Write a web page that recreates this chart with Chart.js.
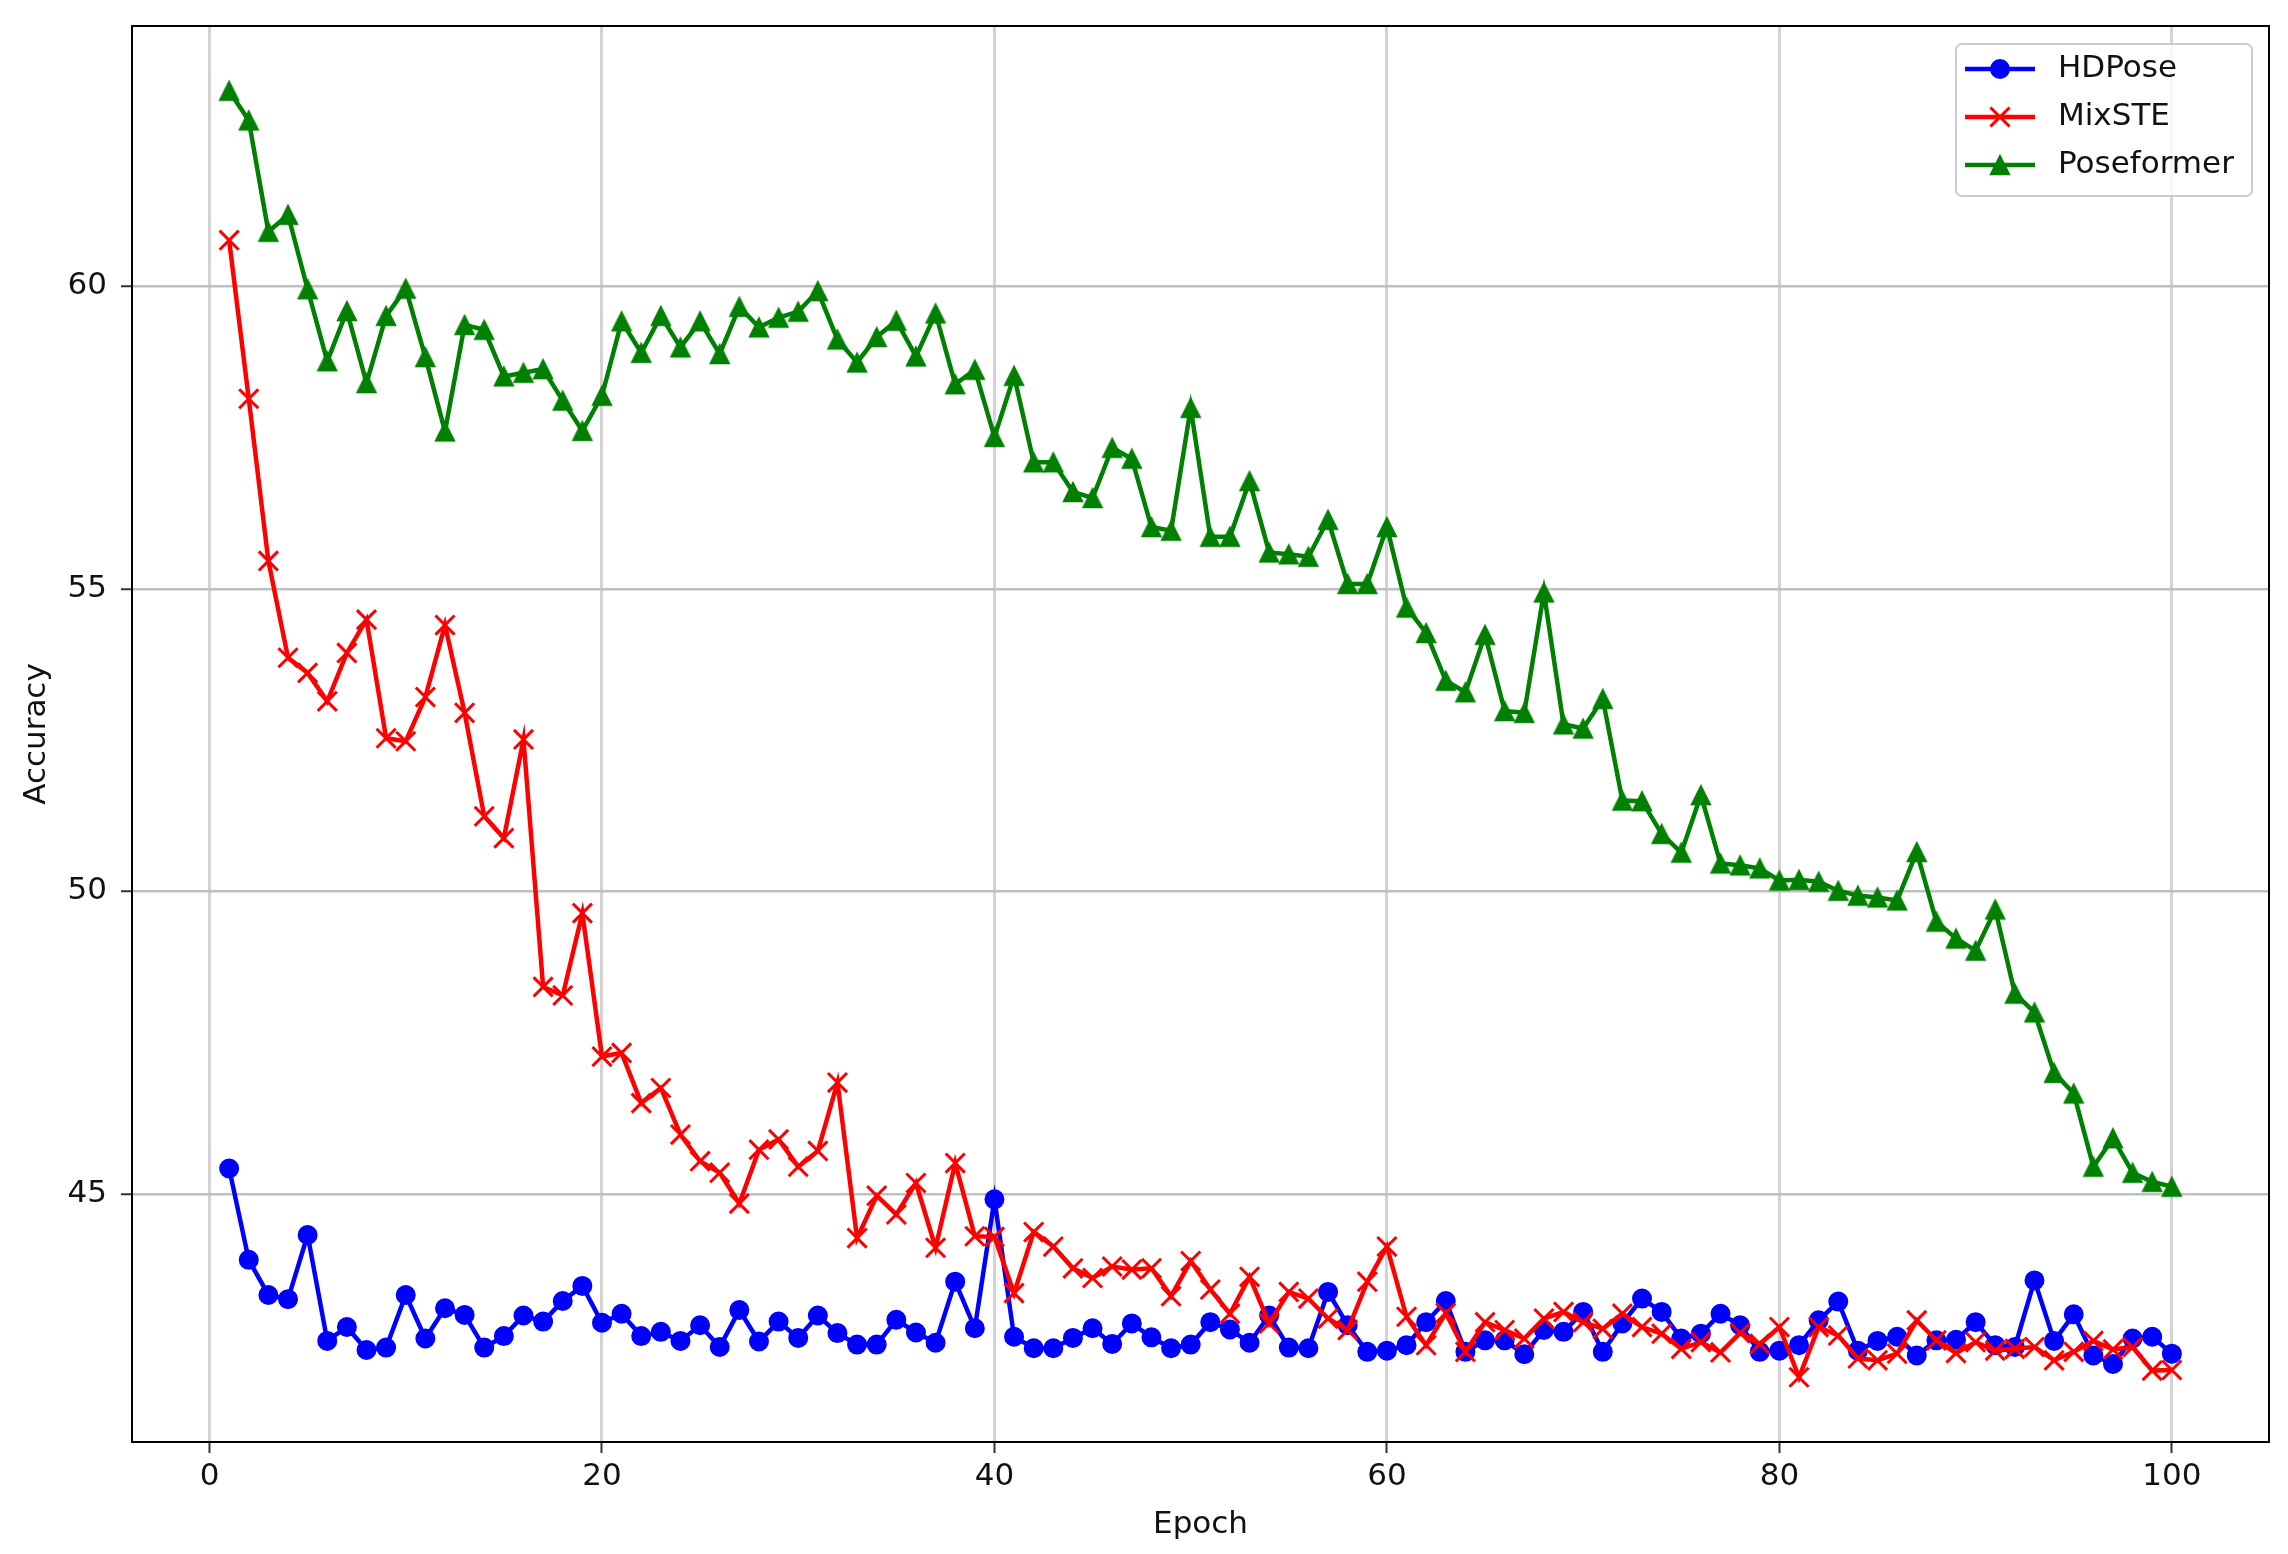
<!DOCTYPE html>
<html>
<head>
<meta charset="utf-8">
<script src="https://cdn.jsdelivr.net/npm/chart.js@4.4.0/dist/chart.umd.min.js"></script>
<style>
  html, body { margin: 0; padding: 0; background: #fff; }
  #wrap { width: 2288px; height: 1554px; }
</style>
</head>
<body>
<div id="wrap"><canvas id="chart" width="2288" height="1554"></canvas></div>
<script>
// values
const epochs = [1, 2, 3, 4, 5, 6, 7, 8, 9, 10, 11, 12, 13, 14, 15, 16, 17, 18, 19, 20,
  21, 22, 23, 24, 25, 26, 27, 28, 29, 30, 31, 32, 33, 34, 35, 36, 37, 38, 39, 40,
  41, 42, 43, 44, 45, 46, 47, 48, 49, 50, 51, 52, 53, 54, 55, 56, 57, 58, 59, 60,
  61, 62, 63, 64, 65, 66, 67, 68, 69, 70, 71, 72, 73, 74, 75, 76, 77, 78, 79, 80,
  81, 82, 83, 84, 85, 86, 87, 88, 89, 90, 91, 92, 93, 94, 95, 96, 97, 98, 99, 100]

const hdpose = [45.42, 43.91, 43.33, 43.26, 44.32, 42.57, 42.80, 42.42, 42.46, 43.33,
  42.61, 43.11, 43.00, 42.46, 42.65, 42.99, 42.89, 43.23, 43.48, 42.87,
  43.02, 42.65, 42.72, 42.57, 42.83, 42.47, 43.08, 42.56, 42.89, 42.62,
  42.99, 42.70, 42.51, 42.51, 42.92, 42.71, 42.54, 43.55, 42.78, 44.91,
  42.64, 42.45, 42.45, 42.62, 42.78, 42.52, 42.86, 42.63, 42.45, 42.51,
  42.88, 42.76, 42.54, 42.99, 42.46, 42.45, 43.38, 42.83, 42.39, 42.41,
  42.50, 42.88, 43.23, 42.39, 42.58, 42.58, 42.35, 42.75, 42.72, 43.05,
  42.39, 42.86, 43.27, 43.05, 42.61, 42.69, 43.02, 42.83, 42.39, 42.41,
  42.50, 42.91, 43.22, 42.41, 42.57, 42.64, 42.33, 42.58, 42.59, 42.88,
  42.50, 42.47, 43.57, 42.57, 43.01, 42.33, 42.19, 42.61, 42.64, 42.36]

const mixste = [60.76, 58.14, 55.46, 53.86, 53.61, 53.14, 53.94, 54.49, 52.53, 52.48,
  53.21, 54.40, 52.95, 51.24, 50.88, 52.51, 48.42, 48.28, 49.64, 47.27,
  47.33, 46.50, 46.75, 45.98, 45.54, 45.35, 44.84, 45.73, 45.90, 45.45,
  45.71, 46.84, 44.27, 44.97, 44.66, 45.18, 44.11, 45.51, 44.30, 44.29,
  43.36, 44.37, 44.13, 43.77, 43.61, 43.80, 43.75, 43.77, 43.31, 43.89,
  43.42, 43.02, 43.63, 42.86, 43.38, 43.27, 42.94, 42.75, 43.55, 44.13,
  42.97, 42.50, 43.03, 42.39, 42.88, 42.75, 42.61, 42.94, 43.05, 42.88,
  42.77, 43.02, 42.80, 42.69, 42.44, 42.55, 42.38, 42.70, 42.52, 42.80,
  41.97, 42.80, 42.66, 42.28, 42.25, 42.36, 42.91, 42.58, 42.37, 42.55,
  42.41, 42.44, 42.47, 42.25, 42.39, 42.57, 42.43, 42.47, 42.08, 42.09]

const poseformer = [63.23, 62.74, 60.90, 61.18, 59.95, 58.76, 59.59, 58.40, 59.51, 59.96,
  58.83, 57.60, 59.36, 59.28, 58.51, 58.57, 58.63, 58.11, 57.61, 58.19,
  59.42, 58.90, 59.51, 58.99, 59.42, 58.88, 59.66, 59.32, 59.48, 59.58,
  59.92, 59.12, 58.74, 59.16, 59.43, 58.84, 59.55, 58.38, 58.62, 57.51,
  58.52, 57.09, 57.09, 56.60, 56.50, 57.33, 57.15, 56.02, 55.96, 57.99,
  55.86, 55.86, 56.78, 55.60, 55.57, 55.53, 56.14, 55.08, 55.08, 56.02,
  54.69, 54.27, 53.48, 53.29, 54.24, 52.98, 52.95, 54.94, 52.76, 52.69,
  53.18, 51.50, 51.49, 50.95, 50.64, 51.59, 50.46, 50.43, 50.38, 50.18,
  50.19, 50.16, 50.01, 49.93, 49.90, 49.85, 50.65, 49.50, 49.22, 49.02,
  49.70, 48.31, 48.00, 47.00, 46.66, 45.45, 45.92, 45.35, 45.20, 45.12]

const seriesNames = ['HDPose', 'MixSTE', 'Poseformer']
const xTicks = [0, 20, 40, 60, 80, 100]
const yTicks = [45, 50, 55, 60]

const FONT = { family: '"DejaVu Sans", sans-serif', size: 31 }
const TEXT = '#111'

// matplotlib style '^' marker: bbox centred on the point
function triangleMarker(color) {
  const c = document.createElement('canvas')
  c.width = 24
  c.height = 24
  const g = c.getContext('2d')
  g.fillStyle = color
  g.strokeStyle = color
  g.lineWidth = 1.5
  g.beginPath()
  g.moveTo(12, 2.5)
  g.lineTo(21.5, 21.5)
  g.lineTo(2.5, 21.5)
  g.closePath()
  g.fill()
  g.stroke()
  return c
}

// full box around the plot (matplotlib spines)
const frame = {
  id: 'frame',
  afterDatasetsDraw(chart) {
    const a = chart.chartArea
    const ctx = chart.ctx
    ctx.save()
    ctx.strokeStyle = '#000'
    ctx.lineWidth = 2
    ctx.strokeRect(a.left, a.top, a.right - a.left, a.bottom - a.top)
    ctx.restore()
  }
}

// legend drawn like matplotlib: line + marker + label, upper right
const mplLegend = {
  id: 'mplLegend',
  afterDraw(chart) {
    const a = chart.chartArea
    const ctx = chart.ctx
    const w = 296, h = 152
    const left = a.right - 17 - w
    const top = a.top + 18
    ctx.save()
    ctx.beginPath()
    ctx.roundRect(left, top, w, h, 6)
    ctx.fillStyle = 'rgba(255,255,255,0.8)'
    ctx.fill()
    ctx.strokeStyle = '#cccccc'
    ctx.lineWidth = 2
    ctx.stroke()

    chart.data.datasets.forEach((ds, i) => {
      const y = top + 25 + i * 48
      ctx.strokeStyle = ds.borderColor
      ctx.lineWidth = ds.borderWidth
      ctx.beginPath()
      ctx.moveTo(left + 9, y)
      ctx.lineTo(left + 79, y)
      ctx.stroke()
      ctx.fillStyle = ds.pointBackgroundColor
      ctx.strokeStyle = ds.pointBorderColor
      ctx.lineWidth = ds.pointBorderWidth
      Chart.helpers.drawPoint(ctx, {
        pointStyle: ds.pointStyle,
        radius: ds.pointRadius,
        borderWidth: ds.pointBorderWidth,
        rotation: 0
      }, left + 44, y)
      ctx.fillStyle = TEXT
      ctx.font = FONT.size + 'px ' + FONT.family
      ctx.textAlign = 'left'
      ctx.textBaseline = 'middle'
      ctx.fillText(ds.label, left + 102, y)
    })
    ctx.restore()
  }
}

const chart = new Chart(document.getElementById('chart'), {
  type: 'line',
  data: {
    labels: epochs,
    datasets: [
      {
        label: seriesNames[0],
        data: hdpose,
        borderColor: '#0000ff',
        backgroundColor: '#0000ff',
        pointBackgroundColor: '#0000ff',
        pointBorderColor: '#0000ff',
        borderWidth: 4.5,
        pointStyle: 'circle',
        pointRadius: 9,
        pointBorderWidth: 2,
        order: 3
      },
      {
        label: seriesNames[1],
        data: mixste,
        borderColor: '#ff0000',
        backgroundColor: '#ff0000',
        pointBackgroundColor: '#ff0000',
        pointBorderColor: '#ff0000',
        borderWidth: 4.5,
        pointStyle: 'crossRot',
        pointRadius: 13.5,
        pointBorderWidth: 3,
        order: 2
      },
      {
        label: seriesNames[2],
        data: poseformer,
        borderColor: '#008000',
        backgroundColor: '#008000',
        pointBackgroundColor: '#008000',
        pointBorderColor: '#008000',
        borderWidth: 4.5,
        pointStyle: triangleMarker('#008000'),
        pointRadius: 10,
        pointBorderWidth: 1,
        order: 1
      }
    ]
  },
  options: {
    responsive: false,
    devicePixelRatio: 1,
    animation: false,
    events: [],
    layout: { padding: { top: 26, right: 19, left: 0, bottom: 0 } },
    elements: { line: { tension: 0 } },
    plugins: {
      legend: { display: false },
      tooltip: { enabled: false }
    },
    scales: {
      x: {
        type: 'linear',
        min: -3.95,
        max: 104.95,
        afterBuildTicks: axis => { axis.ticks = xTicks.map(v => ({ value: v })) },
        afterFit: axis => {
          axis.height = 112
          axis.paddingLeft = 0
          axis.paddingRight = 0
        },
        border: { display: false },
        grid: { color: '#d3d3d3', lineWidth: 3, tickColor: '#333', tickLength: 11, tickWidth: 2 },
        ticks: { font: FONT, color: TEXT, padding: 5, maxRotation: 0 },
        title: { display: true, text: 'Epoch', font: FONT, color: TEXT, padding: { top: 0, bottom: 10 } }
      },
      y: {
        min: 40.9,
        max: 64.3,
        afterBuildTicks: axis => { axis.ticks = yTicks.map(v => ({ value: v })) },
        afterFit: axis => {
          axis.width = 132
          axis.paddingTop = 0
          axis.paddingBottom = 0
        },
        border: { display: false },
        grid: { color: '#c0c0c0', lineWidth: 2.5, tickColor: '#333', tickLength: 11, tickWidth: 2 },
        ticks: { font: FONT, color: TEXT, padding: 14 },
        title: { display: true, text: 'Accuracy', font: FONT, color: TEXT, padding: { top: 18, bottom: 0 } }
      }
    }
  },
  plugins: [frame, mplLegend]
})
</script>
</body>
</html>
